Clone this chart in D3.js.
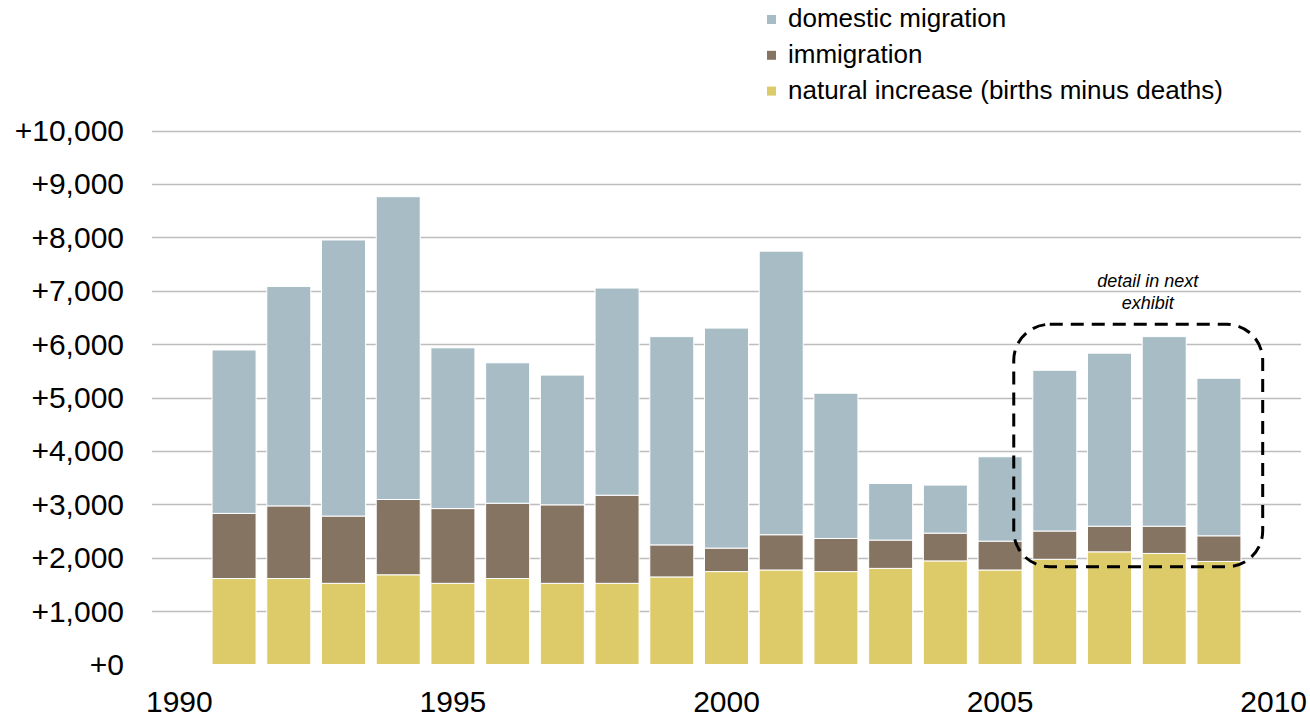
<!DOCTYPE html>
<meta charset="utf-8">
<style>
body{margin:0;background:#fff;}
text{font-family:"Liberation Sans",Arial,sans-serif;fill:#000;}
.grid line{stroke:#bdbdbd;stroke-width:1.3px;}
.tick{font-size:30px;}
.legend text{font-size:26px;}
.note{font-size:18px;font-style:italic;text-anchor:middle;}
</style>
<body>
<script src="https://d3js.org/d3.v7.min.js"></script>
<script>

var years=[1991,1992,1993,1994,1995,1996,1997,1998,1999,2000,2001,2002,2003,2004,2005,2006,2007,2008,2009];
var natural=[1610,1610,1520,1680,1520,1610,1520,1520,1640,1740,1770,1740,1800,1940,1770,1970,2110,2080,1930];
var immigration=[1220,1360,1260,1410,1400,1410,1470,1650,600,440,660,620,530,520,540,530,480,510,480];
var domestic=[3060,4110,5170,5670,3010,2630,2430,3880,3900,4120,5310,2720,1060,900,1580,3010,3240,3550,2950];
var yTicks=[0,1000,2000,3000,4000,5000,6000,7000,8000,9000,10000];
var xTicks=[1990,1995,2000,2005,2010];
var keys=["natural","immigration","domestic"];
var labels={domestic:"domestic migration",immigration:"immigration",natural:"natural increase (births minus deaths)"};
var color={domestic:"#a8bcc6",immigration:"#867463",natural:"#ddcb6a"};

var rows=years.map(function(y,i){return {year:y,natural:natural[i],immigration:immigration[i],domestic:domestic[i]};});

var svg=d3.select("body").append("svg").attr("width",1310).attr("height",721);

var x=d3.scaleLinear().domain([1989.5,2010.5]).range([152,1301]);
var y=d3.scaleLinear().domain([0,10000]).range([664.5,130.5]);
var barW=44;

// gridlines
svg.append("g").attr("class","grid").selectAll("line")
	.data(yTicks.filter(d=>d>0)).enter().append("line")
	.attr("x1",x.range()[0]).attr("x2",x.range()[1])
	.attr("y1",d=>Math.round(y(d))+0.5).attr("y2",d=>Math.round(y(d))+0.5);

// y labels
svg.append("g").selectAll("text")
	.data(yTicks).enter().append("text").attr("class","tick")
	.attr("x",124).attr("y",d=>y(d)+10.5)
	.attr("text-anchor","end")
	.text(d=>"+"+d3.format(",")(d));

// x labels
svg.append("g").selectAll("text")
	.data(xTicks).enter().append("text").attr("class","tick")
	.attr("x",d=>x(d)).attr("y",712)
	.attr("text-anchor","middle")
	.text(d=>d);

// stacked bars
var series=d3.stack().keys(keys)(rows);
svg.append("g").selectAll("g")
	.data(series).enter().append("g")
	.attr("fill",d=>color[d.key])
	.selectAll("rect").data(d=>d).enter().append("rect")
	.attr("x",d=>x(d.data.year)-barW/2)
	.attr("width",barW)
	.attr("y",d=>y(d[1]))
	.attr("height",d=>y(d[0])-y(d[1]))
	.attr("stroke","#fff").attr("stroke-width",1);

// dashed box around 2006-2009
svg.append("rect")
	.attr("x",x(2005.25)).attr("y",y(6370))
	.attr("width",x(2009.8)-x(2005.25)).attr("height",y(1830)-y(6370))
	.attr("rx",36).attr("ry",36)
	.attr("fill","none").attr("stroke","#000")
	.attr("stroke-width",3).attr("stroke-dasharray","13,8");

svg.append("text").attr("class","note").attr("x",x(2007.7)).attr("y",287).text("detail in next");
svg.append("text").attr("class","note").attr("x",x(2007.7)).attr("y",309).text("exhibit");

// legend
var leg=svg.append("g").attr("class","legend").selectAll("g")
	.data(keys.slice().reverse()).enter().append("g")
	.attr("transform",(d,i)=>"translate(767,"+(27+i*35.8)+")");
leg.append("rect").attr("x",0).attr("y",-12).attr("width",9).attr("height",9).attr("fill",d=>color[d]);
leg.append("text").attr("x",21).attr("y",0).text(d=>labels[d]);

</script>
</body>
</html>
